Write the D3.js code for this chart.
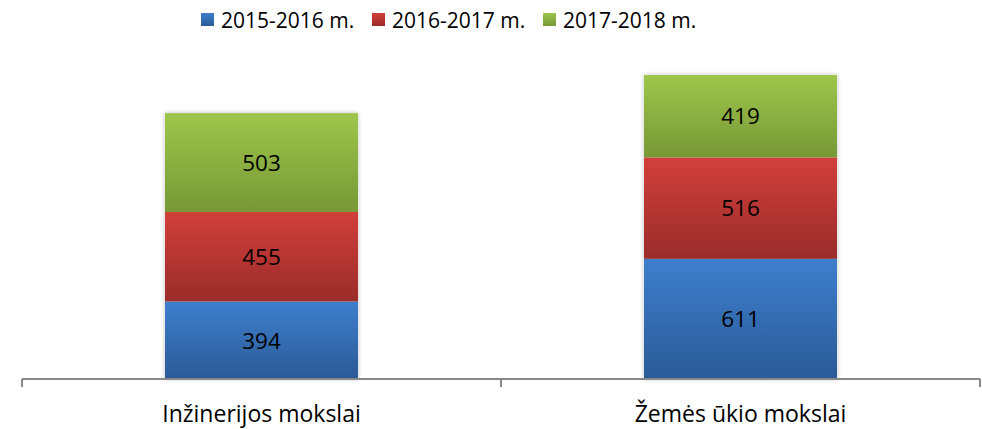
<!DOCTYPE html>
<html>
<head>
<meta charset="utf-8">
<script src="https://cdn.jsdelivr.net/npm/d3@7"></script>
<style>
  body { margin: 0; background: #fff; }
  text { font-family: "Open Sans", "Noto Sans", sans-serif; fill: #000; }
</style>
</head>
<body>
<svg id="chart" width="982" height="429"></svg>
<script>
// chart data
const categories = ["Inžinerijos mokslai", "Žemės ūkio mokslai"];
const seriesNames = ["2015-2016 m.", "2016-2017 m.", "2017-2018 m."];
const v2015 = [394, 611];
const v2016 = [455, 516];
const v2017 = [503, 419];

const colors = [
  { top: "#3e7fcd", bottom: "#2b5a97" },
  { top: "#d23f3b", bottom: "#9a2c2a" },
  { top: "#9ec64b", bottom: "#779836" },
];

const width = 982, height = 429;
const margin = { top: 25, right: 2, bottom: 50, left: 22 };

const svg = d3.select("#chart");
const defs = svg.append("defs");

colors.forEach((c, i) => {
  const g = defs.append("linearGradient")
    .attr("id", "grad" + i)
    .attr("x1", 0).attr("y1", 0).attr("x2", 0).attr("y2", 1);
  g.append("stop").attr("offset", "0%").attr("stop-color", c.top);
  g.append("stop").attr("offset", "100%").attr("stop-color", c.bottom);
});

const shadow = defs.append("filter").attr("id", "shadow")
  .attr("x", "-10%").attr("y", "-10%").attr("width", "120%").attr("height", "120%");
shadow.append("feDropShadow")
  .attr("dx", 0).attr("dy", 0).attr("stdDeviation", 2)
  .attr("flood-color", "#000").attr("flood-opacity", 0.3);

const data = categories.map((c, i) => ({
  cat: c, a: v2015[i], b: v2016[i], c: v2017[i]
}));
const stack = d3.stack().keys(["a", "b", "c"])(data);

const x = d3.scaleBand()
  .domain(categories)
  .range([margin.left, width - margin.right])
  .paddingInner(0)
  .paddingOuter(0);

const y = d3.scaleLinear()
  .domain([0, 1800])
  .range([height - margin.bottom, margin.top]);

const barW = x.bandwidth() * 0.403;

// white backing rect carries the soft shadow
const barG = svg.append("g");
data.forEach(d => {
  barG.append("rect")
    .attr("x", x(d.cat) + (x.bandwidth() - barW) / 2)
    .attr("y", y(d.a + d.b + d.c))
    .attr("width", barW)
    .attr("height", y(0) - y(d.a + d.b + d.c))
    .attr("fill", "#fff")
    .attr("filter", "url(#shadow)");
});

stack.forEach((s, si) => {
  const g = svg.append("g");
  g.selectAll("rect")
    .data(s)
    .join("rect")
    .attr("x", d => x(d.data.cat) + (x.bandwidth() - barW) / 2)
    .attr("y", d => y(d[1]))
    .attr("width", barW)
    .attr("height", d => y(d[0]) - y(d[1]))
    .attr("fill", `url(#grad${si})`);

  g.selectAll("text")
    .data(s)
    .join("text")
    .attr("x", d => x(d.data.cat) + x.bandwidth() / 2)
    .attr("y", d => (y(d[0]) + y(d[1])) / 2)
    .attr("dy", "0.37em")
    .attr("text-anchor", "middle")
    .style("font-size", "22.5px")
    .text(d => d[1] - d[0]);
});

// x axis
const axisY = y(0);
const xAxis = svg.append("g")
  .attr("transform", `translate(0,${axisY})`)
  .call(d3.axisBottom(x).tickSize(0).tickFormat(""));
xAxis.select(".domain").remove();
xAxis.append("line")
  .attr("x1", margin.left).attr("x2", width - margin.right)
  .attr("stroke", "#898989").attr("stroke-width", 2);
const tickPos = [margin.left, ...categories.map(c => x(c) + x.bandwidth())];
xAxis.selectAll(".tk")
  .data(tickPos)
  .join("line")
  .attr("class", "tk")
  .attr("x1", d => d).attr("x2", d => d)
  .attr("y1", 0).attr("y2", 8)
  .attr("stroke", "#898989").attr("stroke-width", 2);

svg.append("g").selectAll("text")
  .data(categories)
  .join("text")
  .attr("x", d => x(d) + x.bandwidth() / 2)
  .attr("y", 422)
  .attr("text-anchor", "middle")
  .style("font-size", "23px")
  .text(d => d);

// legend
const legendX = [201, 372, 543];
const legend = svg.append("g");
seriesNames.forEach((n, i) => {
  legend.append("rect")
    .attr("x", legendX[i]).attr("y", 13)
    .attr("width", 13).attr("height", 13)
    .attr("fill", `url(#grad${i})`);
  legend.append("text")
    .attr("x", legendX[i] + 20).attr("y", 28)
    .style("font-size", "21px")
    .text(n);
});
</script>
</body>
</html>
